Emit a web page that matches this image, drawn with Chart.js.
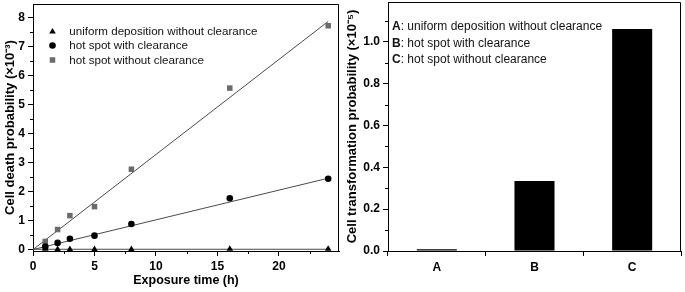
<!DOCTYPE html>
<html><head><meta charset="utf-8">
<script src="https://cdn.jsdelivr.net/npm/chart.js@4/dist/chart.umd.min.js"></script>
<style>
html,body{margin:0;padding:0;background:#fff;}
#w{position:relative;width:685px;height:292px;overflow:hidden;background:#fff}
#l{position:absolute;left:0;top:0;width:343px;height:292px}
#r{position:absolute;left:343px;top:0;width:342px;height:292px}
</style></head><body>
<div id="w"><div id="l"><canvas id="c1"></canvas></div><div id="r"><canvas id="c2"></canvas></div></div>
<script>
// ---- data: left panel (cell death probability, x10^-3) ----
const exposureTime   = [1, 2, 3, 5, 8, 16, 24];
const uniformNoClear = [0.02, 0.01, 0.01, 0.01, 0.01, 0.02, 0.02];
const hotWithClear   = [0.10, 0.23, 0.37, 0.48, 0.88, 1.77, 2.44];
const hotNoClear     = [0.28, 0.69, 1.17, 1.48, 2.77, 5.57, 7.72];
const fitTime        = [0, 24];
const fitUniform     = [0.01, 0.01];
const fitHotWith     = [0.0, 2.46];
const fitHotWithout  = [0.0, 7.87];
const seriesNames    = ['uniform deposition without clearance', 'hot spot with clearance', 'hot spot without clearance'];
const deathXTicks    = [0, 5, 10, 15, 20];
const deathXMinor    = [2.5, 7.5, 12.5, 17.5, 22.5];
const deathYTicks    = [0, 1, 2, 3, 4, 5, 6, 7, 8];
const deathYMinor    = [0.5, 1.5, 2.5, 3.5, 4.5, 5.5, 6.5, 7.5];
// ---- data: right panel (cell transformation probability, x10^-5) ----
const scenarioLabels = ['A', 'B', 'C'];
const transformProb  = [0.008, 0.334, 1.061];
const transYTicks    = [0, 0.2, 0.4, 0.6, 0.8, 1.0];
const transYMinor    = [0.1, 0.3, 0.5, 0.7, 0.9, 1.1];

const FONT = "'Liberation Sans', Arial, sans-serif";
const pts = (xs, ys) => xs.map((x, i) => ({x: x, y: ys[i]}));

function fixFit(w, h) {
  return function (s) {
    if (w !== null) s.width = w;
    if (h !== null) s.height = h;
    s.paddingTop = 0; s.paddingBottom = 0; s.paddingLeft = 0; s.paddingRight = 0;
  };
}

const framePlugin = {
  id: 'frame',
  afterDraw(chart, args, opts) {
    const ctx = chart.ctx, a = chart.chartArea;
    ctx.save();
    ctx.strokeStyle = '#000';
    ctx.lineWidth = 1;
    ctx.beginPath();
    ctx.moveTo(Math.round(a.left) + 0.5, Math.round(a.top) + 0.5);
    ctx.lineTo(Math.round(a.right) - 0.5, Math.round(a.top) + 0.5);
    ctx.lineTo(Math.round(a.right) - 0.5, Math.round(a.bottom) + 0.5);
    ctx.stroke();
    const xs = chart.scales.x, ys = chart.scales.y;
    ctx.beginPath();
    (opts.xMinor || []).forEach(v => {
      const px = Math.round(xs.getPixelForValue(v)) + 0.5;
      ctx.moveTo(px, a.bottom); ctx.lineTo(px, a.bottom + 3);
    });
    (opts.yMinor || []).forEach(v => {
      const py = Math.round(ys.getPixelForValue(v)) + 0.5;
      ctx.moveTo(a.left, py); ctx.lineTo(a.left - 3, py);
    });
    ctx.stroke();
    ctx.restore();
  }
};

const legendLeft = {
  id: 'legendLeft',
  afterDraw(chart) {
    const ctx = chart.ctx;
    ctx.save();
    const rows = [31.7, 45.5, 60];
    [0, 1, 2].forEach(i => {
      const ds = chart.data.datasets[i];
      ctx.fillStyle = ds.pointBackgroundColor;
      ctx.strokeStyle = ds.pointBackgroundColor;
      Chart.helpers.drawPoint(ctx, {pointStyle: ds.pointStyle, radius: ds.pointRadius, rotation: 0, borderWidth: 0}, 52.5, rows[i]);
      ctx.fillStyle = '#111';
      ctx.font = '11.6px ' + FONT;
      ctx.textAlign = 'left';
      ctx.textBaseline = 'middle';
      ctx.fillText(ds.label, 69.3, rows[i] + 0.5);
    });
    ctx.restore();
  }
};

const legendRight = {
  id: 'legendRight',
  afterDraw(chart) {
    const ctx = chart.ctx;
    ctx.save();
    const rows = [27, 43.5, 60];
    ctx.textAlign = 'left';
    ctx.textBaseline = 'middle';
    ctx.fillStyle = '#111';
    scenarioLabels.forEach((lab, i) => {
      ctx.font = 'bold 12px ' + FONT;
      const w = ctx.measureText(lab).width;
      ctx.fillText(lab, 49, rows[i]);
      ctx.font = '12px ' + FONT;
      ctx.fillText(': ' + seriesNames[i], 49 + w, rows[i]);
    });
    ctx.restore();
  }
};

const tickFont = {family: FONT, size: 12, weight: 'bold'};
const titleFont = {family: FONT, size: 13, weight: 'bold'};

new Chart(document.getElementById('c1'), {
  type: 'line',
  data: {
    datasets: [
      {label: seriesNames[0], data: pts(exposureTime, uniformNoClear), showLine: false, pointStyle: 'triangle', pointRadius: 3.8, pointBackgroundColor: '#000', pointBorderWidth: 0, clip: 8},
      {label: seriesNames[1], data: pts(exposureTime, hotWithClear), showLine: false, pointStyle: 'circle', pointRadius: 3.3, pointBackgroundColor: '#000', pointBorderWidth: 0, clip: 8},
      {label: seriesNames[2], data: pts(exposureTime, hotNoClear), showLine: false, pointStyle: 'rect', pointRadius: 3.9, pointBackgroundColor: '#6b6b6b', pointBorderWidth: 0, clip: 8},
      {label: 'fit A', data: pts(fitTime, fitUniform), borderColor: '#4a4a4a', borderWidth: 1, pointRadius: 0, showLine: true, clip: 8},
      {label: 'fit B', data: pts(fitTime, fitHotWith), borderColor: '#4a4a4a', borderWidth: 1, pointRadius: 0, showLine: true, clip: 8},
      {label: 'fit C', data: pts(fitTime, fitHotWithout), borderColor: '#4a4a4a', borderWidth: 1, pointRadius: 0, showLine: true, clip: 8}
    ]
  },
  options: {
    responsive: true, maintainAspectRatio: false, animation: false,
    layout: {padding: {left: 0, right: 4, top: 3, bottom: 0}},
    plugins: {legend: {display: false}, tooltip: {enabled: false}, frame: {xMinor: deathXMinor, yMinor: deathYMinor}},
    scales: {
      x: {
        type: 'linear', min: 0, max: 24.88,
        afterBuildTicks: s => { s.ticks = deathXTicks.map(v => ({value: v})); },
        afterFit: fixFit(null, 41),
        grid: {drawOnChartArea: false, drawTicks: true, tickLength: 5, color: '#000'},
        border: {color: '#000', width: 1},
        ticks: {font: tickFont, color: '#000', padding: 3, maxRotation: 0},
        title: {display: true, text: 'Exposure time (h)', font: {family: FONT, size: 12.5, weight: 'bold'}, color: '#000', padding: {top: 0, bottom: 4}}
      },
      y: {
        type: 'linear', min: -0.05, max: 8.47,
        afterBuildTicks: s => { s.ticks = deathYTicks.map(v => ({value: v})); },
        afterFit: fixFit(33, null),
        grid: {drawOnChartArea: false, drawTicks: true, tickLength: 5, color: '#000'},
        border: {color: '#000', width: 1},
        ticks: {font: tickFont, color: '#000', padding: 3},
        title: {display: true, text: 'Cell death probability (×10⁻³)', font: titleFont, color: '#000', padding: {top: 3, bottom: 0}}
      }
    }
  },
  plugins: [framePlugin, legendLeft]
});

new Chart(document.getElementById('c2'), {
  type: 'bar',
  data: {
    labels: scenarioLabels,
    datasets: [{data: transformProb, backgroundColor: '#000', borderWidth: 0, barPercentage: 0.41, categoryPercentage: 1}]
  },
  options: {
    responsive: true, maintainAspectRatio: false, animation: false,
    layout: {padding: {left: 0, right: 4, top: 2, bottom: 0}},
    plugins: {legend: {display: false}, tooltip: {enabled: false}, frame: {yMinor: transYMinor}},
    scales: {
      x: {
        afterFit: fixFit(null, 41),
        grid: {drawOnChartArea: false, drawTicks: true, tickLength: 5, color: '#000', offset: true},
        border: {color: '#000', width: 1},
        ticks: {font: tickFont, color: '#000', padding: 4}
      },
      y: {
        type: 'linear', min: 0, max: 1.19,
        afterBuildTicks: s => { s.ticks = transYTicks.map(v => ({value: v})); },
        afterFit: fixFit(45, null),
        grid: {drawOnChartArea: false, drawTicks: true, tickLength: 5, color: '#000'},
        border: {color: '#000', width: 1},
        ticks: {font: tickFont, color: '#000', padding: 3, callback: v => v.toFixed(1)},
        title: {display: true, text: 'Cell transformation probability (×10⁻⁵)', font: titleFont, color: '#000', padding: {top: 2, bottom: 0}}
      }
    }
  },
  plugins: [framePlugin, legendRight]
});
</script>
</body></html>
